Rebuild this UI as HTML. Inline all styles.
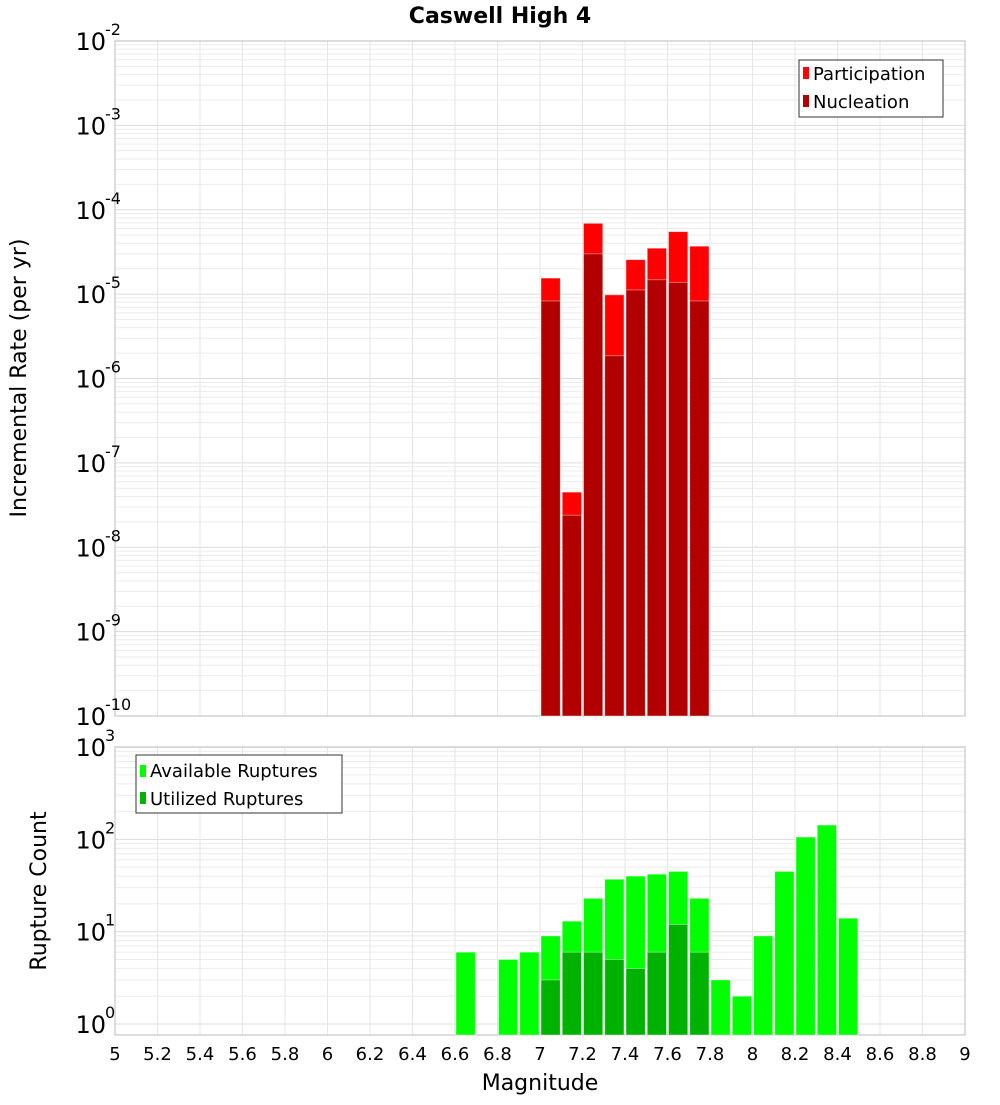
<!DOCTYPE html>
<html><head><meta charset="utf-8"><style>
body{margin:0;background:#fff;font-family:"Liberation Sans","DejaVu Sans",sans-serif}
svg text{font-family:"DejaVu Sans","Liberation Sans",sans-serif}
</style></head><body>
<svg id="c" width="1000" height="1100" xmlns="http://www.w3.org/2000/svg">
<text x="500" y="23" text-anchor="middle" font-size="22" font-weight="bold">Caswell High 4</text>
<g id="topg"></g>
<g id="botg"></g>
<text transform="translate(26,378) rotate(-90)" text-anchor="middle" font-size="22">Incremental Rate (per yr)</text>
<text transform="translate(46,891) rotate(-90)" text-anchor="middle" font-size="22">Rupture Count</text>
<text x="540" y="1090" text-anchor="middle" font-size="22">Magnitude</text>
<g>
<rect x="799" y="60" width="144" height="57" fill="#fff" stroke="#333"/>
<rect x="803" y="67" width="6" height="12" fill="#ff0000"/>
<text x="813" y="80" font-size="18">Participation</text>
<rect x="803" y="95" width="6" height="12" fill="#b20000"/>
<text x="813" y="108" font-size="18">Nucleation</text>
</g>
<g>
<rect x="136" y="755" width="206" height="58" fill="#fff" stroke="#333"/>
<rect x="140" y="765" width="6" height="12" fill="#00ff00"/>
<text x="150" y="777" font-size="18">Available Ruptures</text>
<rect x="140" y="792" width="6" height="12" fill="#00b200"/>
<text x="150" y="805" font-size="18">Utilized Ruptures</text>
</g>
</svg>
<script>
const rateMags=[7.0,7.1,7.2,7.3,7.4,7.5,7.6,7.7];
const participation=[1.55e-5,4.5e-8,6.9e-5,9.8e-6,2.56e-5,3.5e-5,5.5e-5,3.7e-5];
const nucleation=[8.3e-6,2.4e-8,3.0e-5,1.86e-6,1.12e-5,1.48e-5,1.38e-5,8.3e-6];
const countMags=[6.6,6.8,6.9,7.0,7.1,7.2,7.3,7.4,7.5,7.6,7.7,7.8,7.9,8.0,8.1,8.2,8.3,8.4];
const available=[6,5,6,9,13,23,37,40,42,45,23,3,2,9,45,106,143,14];
const utilMags=[7.0,7.1,7.2,7.3,7.4,7.5,7.6,7.7];
const utilized=[3,6,6,5,4,6,12,6];
const xTicks=[5,5.2,5.4,5.6,5.8,6,6.2,6.4,6.6,6.8,7,7.2,7.4,7.6,7.8,8,8.2,8.4,8.6,8.8,9];
const topExps=[-10,-9,-8,-7,-6,-5,-4,-3,-2];
const botExps=[0,1,2,3];

const NS="http://www.w3.org/2000/svg";
const L=115,R=965;
const X=m=>L+(m-5)*(R-L)/4;
const TT=41,TB=716;
const Yt=v=>TB-(Math.log10(v)+10)*(TB-TT)/8;
const BT=747,BB=1035,B0=1024,BD=92.3;
const Yb=v=>B0-Math.log10(v)*BD;
function mk(p,t,a){const e=document.createElementNS(NS,t);for(const k in a)e.setAttribute(k,a[k]);p.appendChild(e);return e;}
const gTop=document.getElementById('topg'),gBot=document.getElementById('botg');

function frame(g,y0,y1,Y,exps){
  for(let i=0;i<exps.length;i++){const e=exps[i];
    for(let k=1;k<=9;k++){const v=k*Math.pow(10,e);const y=Y(v);
      if(y<y0-0.5||y>y1+0.5)continue;
      const ln=mk(g,'line',{x1:L,x2:R,y1:y,y2:y,stroke:k==1?'#dcdcdc':'#ececec','stroke-width':1});
      
      }
  }
  for(let j=0;j<=20;j++){const x=X(5+j*0.2);
    const ln=mk(g,'line',{x1:x,x2:x,y1:y0,y2:y1,stroke:'#e6e6e6','stroke-width':1});
    
    }
  const r=mk(g,'rect',{x:L,y:y0,width:R-L,height:y1-y0,fill:'none',stroke:'#bbb'});
  
  
  for(const e of exps){const y=Y(Math.pow(10,e));
    const t=mk(g,'text',{x:106,y:y+9,'text-anchor':'end','font-size':24});
    
    
    t.textContent='10';
    const s=mk(g,'text',{x:105,y:y-6,'font-size':16});
    
    
    s.textContent=String(e);}
}
frame(gTop,TT,TB,Yt,topExps);
frame(gBot,BT,BB,Yb,botExps);

function bars(g,mags,vals,Y,base,col,name){
  mags.forEach((m,i)=>{const y=Y(vals[i]);
    const b=mk(g,'rect',{x:X(m)+1,y:y,width:X(m+0.1)-X(m)-2,height:base-y,fill:col,stroke:'#fff','stroke-opacity':0.5,'stroke-width':0.8});
    
    });
}
bars(gTop,rateMags,participation,Yt,TB,'#ff0000','bar-participation');
bars(gTop,rateMags,nucleation,Yt,TB,'#b20000','bar-nucleation');
bars(gBot,countMags,available,Yb,BB,'#00ff00','bar-available');
bars(gBot,utilMags,utilized,Yb,BB,'#00b200','bar-utilized');

xTicks.forEach(m=>{const t=mk(gBot,'text',{x:X(m),y:1060,'text-anchor':'middle','font-size':18});
  
  
  t.textContent=String(m);});
</script>
</body></html>
